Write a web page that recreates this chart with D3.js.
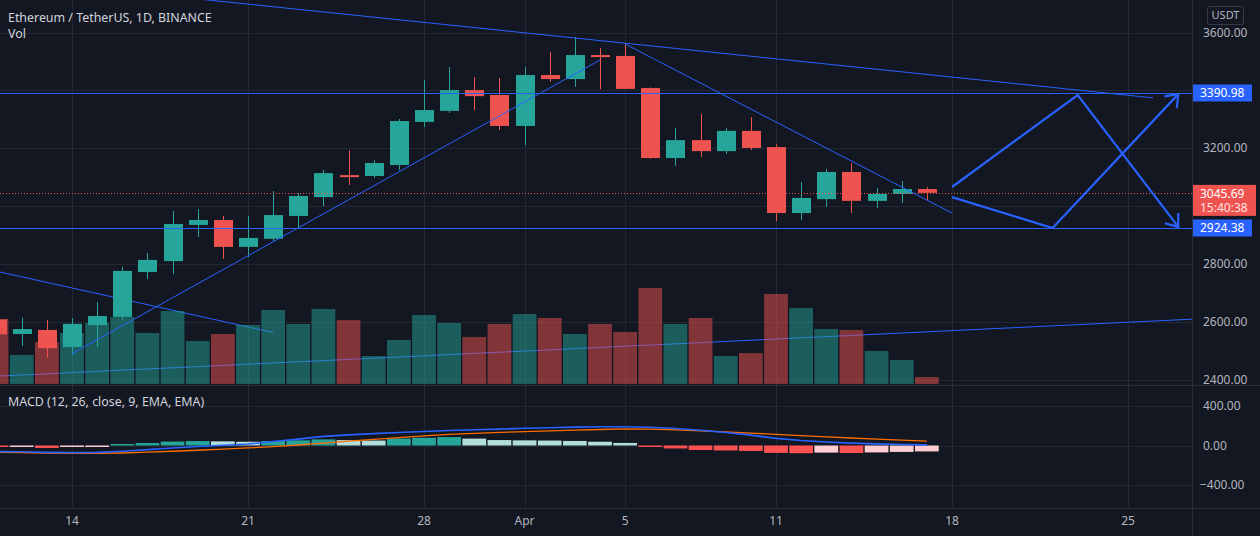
<!DOCTYPE html>
<html><head><meta charset="utf-8">
<script src="https://cdn.jsdelivr.net/npm/d3@7"></script>
<style>
html,body{margin:0;padding:0;background:#131722;overflow:hidden;}
svg{display:block;font-family:"Noto Sans","Open Sans",sans-serif;}
</style></head><body>
<svg id="c" width="1260" height="536"></svg>
<script>
// ---------------- DATA ----------------
const dates = ["2022-03-11","2022-03-12","2022-03-13","2022-03-14","2022-03-15","2022-03-16","2022-03-17","2022-03-18","2022-03-19","2022-03-20",
"2022-03-21","2022-03-22","2022-03-23","2022-03-24","2022-03-25","2022-03-26","2022-03-27","2022-03-28","2022-03-29","2022-03-30",
"2022-03-31","2022-04-01","2022-04-02","2022-04-03","2022-04-04","2022-04-05","2022-04-06","2022-04-07","2022-04-08","2022-04-09",
"2022-04-10","2022-04-11","2022-04-12","2022-04-13","2022-04-14","2022-04-15","2022-04-16","2022-04-17"];
const opens  = [2608,2558,2572,2513,2589,2617,2772,2810,2935,2952,2859,2887,2966,3031,3107,3104,3142,3291,3329,3401,3384,3277,3453,3439,3522,3519,3408,3166,3228,3190,3260,3204,2976,3024,3118,3018,3042,3059];
const highs  = [2630,2614,2607,2613,2668,2790,2838,2983,2990,2966,2966,3052,3045,3125,3193,3159,3301,3436,3481,3446,3443,3481,3533,3584,3546,3564,3410,3270,3318,3270,3308,3214,3083,3128,3149,3062,3087,3066];
const lows   = [2550,2517,2475,2485,2513,2606,2748,2765,2893,2817,2824,2880,2921,3000,3073,3097,3125,3273,3322,3332,3263,3211,3429,3412,3404,3405,3164,3139,3170,3180,3194,2948,2952,2997,2976,2993,3011,3021];
const closes = [2557,2575,2509,2593,2620,2776,2814,2938,2952,2859,2890,2969,3035,3114,3100,3149,3294,3332,3401,3380,3277,3453,3439,3522,3515,3405,3166,3228,3190,3260,3201,2976,3028,3118,3018,3042,3059,3045.69];
const volumes = [542,242,350,425,508,558,425,608,358,417,492,617,500,625,533,233,367,575,508,392,500,583,550,417,500,433,800,500,550,233,258,750,633,458,450,275,200,58];
const macdLine   = [-62,-64,-70,-72,-70,-58,-42,-25,-10,2,15,40,65,92,108,120,132,142,152,160,166,174,180,186,190,190,185,172,155,132,105,72,50,35,24,16,10,6];
const signalLine = [-68,-72,-76,-79,-80,-76,-68,-58,-48,-37,-25,-12,5,25,45,62,80,98,112,122,132,140,148,155,162,168,166,158,148,138,126,113,100,88,76,65,55,45];
const macdHist   = [-12,-8,-25,-10,-5,15,25,40,45,42,38,45,52,62,55,50,70,78,85,70,55,52,50,46,38,26,-15,-30,-45,-50,-55,-75,-78,-72,-76,-70,-65,-60];

const priceTicks = [3600,3200,2800,2600,2400];
const priceGrid  = [3600,3400,3200,3000,2800,2600,2400];
const macdTicks  = [400,0,-400];
const timeTickDates  = ["2022-03-14","2022-03-21","2022-03-28","2022-04-01","2022-04-05","2022-04-11","2022-04-18","2022-04-25"];
const timeTickLabels = ["14","21","28","Apr","5","11","18","25"];

const lastPrice = 3045.69;
const countdown = "15:40:38";
const hLevels = [3390.98, 2924.38];
// trend lines drawn under the volume overlay
const lowerLines = [
  [["2022-03-10",2794],["2022-03-22",2563]],
  [["2022-03-10",2408],["2022-04-28",2611]]
];
// trend lines drawn on top
const upperLines = [
  [["2022-03-19",3716],["2022-04-26",3374]],
  [["2022-03-14",2490],["2022-04-04",3505]],
  [["2022-04-05",3560],["2022-04-18",2976]]
];
const arrowPaths = [
  [["2022-04-18",3066],["2022-04-23",3384],["2022-04-27",2928]],
  [["2022-04-18",3031],["2022-04-22",2924.38],["2022-04-27",3387]]
];

// ---------------- LAYOUT ----------------
const W = 1260, H = 536;
const plotR = 1192;
const mainTop = 0, mainBot = 385;
const macdTop = 386, macdBot = 508;
const bg = "#131722", grid = "#232733", axisText = "#b2b5be";
const up = "#26a69a", down = "#ef5350", blue = "#2962ff";

const pd = s => new Date(s + "T00:00:00Z");
const x = d3.scaleUtc().domain([pd("2022-03-14"), pd("2022-04-25")]).range([72, 1128]);
const y = d3.scaleLinear().domain([2400, 3600]).range([379.7, 32.5]);
const yv = d3.scaleLinear().domain([0, 1000]).range([384, 264]);
const ym = d3.scaleLinear().domain([-400, 400]).range([485, 406]);
const dayW = x(pd("2022-03-15")) - x(pd("2022-03-14"));

const svg = d3.select("#c");
svg.append("rect").attr("width", W).attr("height", H).attr("fill", bg);
const defs = svg.append("defs");
defs.append("clipPath").attr("id", "cm").append("rect").attr("x", 0).attr("y", mainTop).attr("width", plotR).attr("height", mainBot - mainTop);
defs.append("clipPath").attr("id", "cd").append("rect").attr("x", 0).attr("y", macdTop).attr("width", plotR).attr("height", macdBot - macdTop);

// grid
const gGrid = svg.append("g").attr("stroke", grid).attr("stroke-width", 1);
timeTickDates.forEach(d => {
  const xx = Math.round(x(pd(d))) + 0.5;
  gGrid.append("line").attr("x1", xx).attr("x2", xx).attr("y1", 0).attr("y2", macdBot);
});
priceGrid.forEach(p => {
  const yy = Math.round(y(p)) + 0.5;
  gGrid.append("line").attr("x1", 0).attr("x2", plotR).attr("y1", yy).attr("y2", yy);
});
macdTicks.forEach(p => {
  const yy = Math.round(ym(p)) + 0.5;
  gGrid.append("line").attr("x1", 0).attr("x2", plotR).attr("y1", yy).attr("y2", yy);
});

// main pane
const gMain = svg.append("g").attr("clip-path", "url(#cm)");
const ptOf = a => [x(pd(a[0])), y(a[1])];
const lineGen = d3.line();
lowerLines.forEach(l => {
  gMain.append("path").attr("d", lineGen(l.map(ptOf))).attr("fill", "none").attr("stroke", blue).attr("stroke-width", 1);
});

// volume
const data = dates.map((d, i) => ({d: pd(d), o: opens[i], h: highs[i], l: lows[i], c: closes[i], v: volumes[i]}));
gMain.selectAll("rect.vol").data(data).enter().append("rect")
  .attr("x", d => x(d.d) - dayW / 2 + 0.7)
  .attr("width", dayW - 1.4)
  .attr("y", d => yv(d.v))
  .attr("height", d => yv(0) - yv(d.v))
  .attr("fill", d => d.c >= d.o ? up : down)
  .attr("fill-opacity", 0.5);

// candles
const bodyW = 19;
const gC = gMain.append("g");
data.forEach(d => {
  const col = d.c >= d.o ? up : down;
  const cx = Math.round(x(d.d)) + 0.5;
  gC.append("line").attr("x1", cx).attr("x2", cx).attr("y1", y(d.h)).attr("y2", y(d.l)).attr("stroke", col).attr("stroke-width", 1);
  const t = y(Math.max(d.o, d.c)), b = y(Math.min(d.o, d.c));
  gC.append("rect").attr("x", cx - bodyW / 2).attr("width", bodyW).attr("y", t).attr("height", Math.max(1.5, b - t)).attr("fill", col);
});

// current price dotted line
gMain.append("line").attr("x1", 0).attr("x2", plotR).attr("y1", Math.round(y(lastPrice)) + 0.5).attr("y2", Math.round(y(lastPrice)) + 0.5)
  .attr("stroke", down).attr("stroke-width", 1).attr("stroke-dasharray", "1,2");

// horizontal levels
hLevels.forEach(p => {
  const yy = Math.round(y(p)) + 0.5;
  gMain.append("line").attr("x1", 0).attr("x2", plotR).attr("y1", yy).attr("y2", yy).attr("stroke", blue).attr("stroke-width", 1.2);
});

upperLines.forEach(l => {
  gMain.append("path").attr("d", lineGen(l.map(ptOf))).attr("fill", "none").attr("stroke", blue).attr("stroke-width", 1);
});

// arrows
arrowPaths.forEach(pts => {
  const p = pts.map(ptOf);
  gMain.append("path").attr("d", lineGen(p)).attr("fill", "none").attr("stroke", blue).attr("stroke-width", 2.2).attr("stroke-linejoin", "miter");
  const a = p[p.length - 2], b = p[p.length - 1];
  const ang = Math.atan2(a[1] - b[1], a[0] - b[0]);
  const L = 14, s = 0.65;
  const w1 = [b[0] + L * Math.cos(ang + s), b[1] + L * Math.sin(ang + s)];
  const w2 = [b[0] + L * Math.cos(ang - s), b[1] + L * Math.sin(ang - s)];
  gMain.append("path").attr("d", lineGen([w1, b, w2])).attr("fill", "none").attr("stroke", blue).attr("stroke-width", 2.2);
});

// MACD pane
const gM = svg.append("g").attr("clip-path", "url(#cd)");
data.forEach((d, i) => {
  const v = macdHist[i];
  const prev = i > 0 ? macdHist[i - 1] : v + 1;
  let col;
  if (v >= 0) col = v >= prev ? "#26a69a" : "#b2dfdb";
  else col = v < prev ? "#ff5252" : "#ffcdd2";
  const y0 = ym(0), y1 = ym(v);
  gM.append("rect").attr("x", x(d.d) - dayW / 2 + 0.7).attr("width", dayW - 1.4)
    .attr("y", Math.min(y0, y1)).attr("height", Math.max(1.5, Math.abs(y1 - y0))).attr("fill", col);
});
const mLine = d3.line().x((v, i) => x(data[i].d)).y(v => ym(v));
gM.append("path").attr("d", mLine(signalLine)).attr("fill", "none").attr("stroke", "#ff6d00").attr("stroke-width", 1.3);
gM.append("path").attr("d", mLine(macdLine)).attr("fill", "none").attr("stroke", "#2962ff").attr("stroke-width", 1.6);

// separators
const sep = "#2a2e39";
svg.append("line").attr("x1", 0).attr("x2", W).attr("y1", mainBot + 0.5).attr("y2", mainBot + 0.5).attr("stroke", sep);
svg.append("line").attr("x1", 0).attr("x2", W).attr("y1", macdBot + 0.5).attr("y2", macdBot + 0.5).attr("stroke", sep);
svg.append("line").attr("x1", plotR + 0.5).attr("x2", plotR + 0.5).attr("y1", 0).attr("y2", H).attr("stroke", sep);

// price axis labels
const gA = svg.append("g").attr("font-size", 12).attr("fill", axisText);
priceTicks.forEach(p => {
  gA.append("text").attr("x", 1203).attr("y", y(p)).attr("dy", "0.35em").text(d3.format(".2f")(p));
});
macdTicks.forEach(p => {
  gA.append("text").attr("x", p < 0 ? 1200 : 1203).attr("y", ym(p)).attr("dy", "0.35em").text(d3.format(".2f")(p).replace("-", "−"));
});
// time axis
timeTickDates.forEach((d, i) => {
  gA.append("text").attr("x", x(pd(d))).attr("y", 521).attr("dy", "0.35em").attr("text-anchor", "middle").text(timeTickLabels[i]);
});

// USDT box
svg.append("rect").attr("x", 1207.5).attr("y", 6.5).attr("width", 36).attr("height", 18).attr("rx", 2).attr("fill", "none").attr("stroke", "#363a45");
svg.append("text").attr("x", 1225.5).attr("y", 15.5).attr("dy", "0.35em").attr("text-anchor", "middle").attr("font-size", 11).attr("fill", axisText).text("USDT");

// level labels
hLevels.forEach(p => {
  const yy = y(p);
  svg.append("rect").attr("x", plotR + 1).attr("y", yy - 8.5).attr("width", 59).attr("height", 17).attr("fill", blue);
  svg.append("text").attr("x", 1200).attr("y", yy).attr("dy", "0.36em").attr("font-size", 12).attr("fill", "#ffffff").text(d3.format(".2f")(p));
});
{
  const yy = y(lastPrice);
  svg.append("rect").attr("x", plotR + 1).attr("y", yy - 8).attr("width", 63).attr("height", 31).attr("fill", down);
  svg.append("text").attr("x", 1200).attr("y", yy + 0.5).attr("dy", "0.36em").attr("font-size", 12).attr("fill", "#ffffff").text(d3.format(".2f")(lastPrice));
  svg.append("text").attr("x", 1200).attr("y", yy + 15).attr("dy", "0.36em").attr("font-size", 12).attr("fill", "#ffe3e3").text(countdown);
}

// legends
const gL = svg.append("g").attr("fill", "#d1d4dc");
gL.append("text").attr("x", 8).attr("y", 22).attr("font-size", 12.4).text("Ethereum / TetherUS, 1D, BINANCE");
gL.append("text").attr("x", 8).attr("y", 38).attr("font-size", 12.4).text("Vol");
gL.append("text").attr("x", 8).attr("y", 406).attr("font-size", 12.4).text("MACD (12, 26, close, 9, EMA, EMA)");
</script>
</body></html>
